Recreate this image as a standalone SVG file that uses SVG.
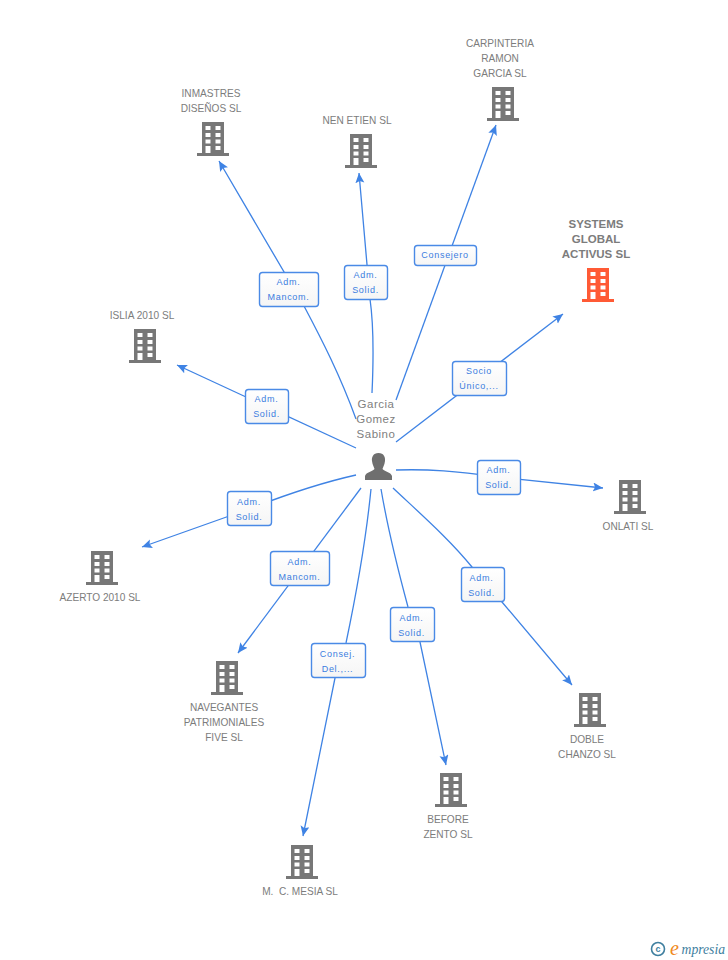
<svg xmlns="http://www.w3.org/2000/svg" xmlns:xlink="http://www.w3.org/1999/xlink" width="728" height="960" viewBox="0 0 728 960">
<style>
text{font-family:"Liberation Sans",Arial,sans-serif}
.n{font-size:10.100px;fill:#7c7c7c;text-anchor:middle;white-space:pre}
.h{font-size:11.500px;font-weight:bold;fill:#7c7c7c;text-anchor:middle}
.p{font-size:11.500px;fill:#808080;text-anchor:middle;letter-spacing:.5px}
.b{font-size:9px;fill:#3b7de0;text-anchor:middle;letter-spacing:.7px}
.c{fill:none;stroke:#3f83e4;stroke-width:1.300;marker-end:url(#a)}
.r{fill:url(#g);stroke:#4a8ae6;stroke-width:1.400}
</style>
<defs>
<linearGradient id="g" x1="0" y1="0" x2="0" y2="1"><stop offset="0" stop-color="#fff"/><stop offset="1" stop-color="#f5f5f5"/></linearGradient>
<marker id="a" markerUnits="userSpaceOnUse" markerWidth="12" markerHeight="10" refX="10" refY="4.500" orient="auto"><path d="M0,0L10,4.500L0,9L2,4.500Z" fill="#3f83e4"/></marker>
<path id="i" fill-rule="evenodd" d="M5,0H27V31H32V34H0V31H5ZM8.500,4V8H13.500V4ZM18.500,4V8H23.500V4ZM8.500,11V15H13.500V11ZM18.500,11V15H23.500V11ZM8.500,17.500V21.500H13.500V17.500ZM18.500,17.500V21.500H23.500V17.500ZM8.500,24V31H13.500V24ZM18.500,24V28H23.500V24Z"/>
</defs>
<g id="connectors">
<path class="c" d="M356,419C340,375 322,340 304,306L219,161"/>
<path class="c" d="M372,393C374,350 373,320 370,299L359,173"/>
<path class="c" d="M396,400L496,125"/>
<path class="c" d="M396,442L563,314"/>
<path class="c" d="M356,448L177,365"/>
<path class="c" d="M396,470C430,469 455,471 498,477L603,488"/>
<path class="c" d="M356,475C320,483 285,495 249,509L142,547"/>
<path class="c" d="M361,488L238,653"/>
<path class="c" d="M371,489C365,550 355,600 346,643L335,678L303,836"/>
<path class="c" d="M381,489C388,530 398,570 408,607L420,642L446,765"/>
<path class="c" d="M393,488C425,518 450,540 472,567L502,602L572,685"/>
</g>
<g id="edge-labels">
<g><rect class="r" x="259.500" y="272.500" width="59" height="34" rx="3"/><text class="b" x="288.500" y="285">Adm.</text><text class="b" x="288.500" y="300">Mancom.</text></g>
<g><rect class="r" x="344.500" y="265.500" width="43" height="34" rx="3"/><text class="b" x="365.500" y="278">Adm.</text><text class="b" x="365.500" y="293">Solid.</text></g>
<g><rect class="r" x="414.500" y="245.500" width="62" height="20" rx="3"/><text class="b" x="445" y="258">Consejero</text></g>
<g><rect class="r" x="452.500" y="361.500" width="54" height="34" rx="3"/><text class="b" x="479" y="374">Socio</text><text class="b" x="479" y="389">Único,...</text></g>
<g><rect class="r" x="245.500" y="389.500" width="43" height="34" rx="3"/><text class="b" x="266.500" y="402">Adm.</text><text class="b" x="266.500" y="417">Solid.</text></g>
<g><rect class="r" x="477.500" y="460.500" width="43" height="34" rx="3"/><text class="b" x="498.500" y="473">Adm.</text><text class="b" x="498.500" y="488">Solid.</text></g>
<g><rect class="r" x="227.500" y="491.500" width="44" height="34" rx="3"/><text class="b" x="249" y="505">Adm.</text><text class="b" x="249" y="520">Solid.</text></g>
<g><rect class="r" x="270.500" y="551.500" width="59" height="34" rx="3"/><text class="b" x="299.500" y="565">Adm.</text><text class="b" x="299.500" y="580">Mancom.</text></g>
<g><rect class="r" x="461.500" y="567.500" width="43" height="34" rx="3"/><text class="b" x="481.500" y="581">Adm.</text><text class="b" x="481.500" y="596">Solid.</text></g>
<g><rect class="r" x="390.500" y="607.500" width="44" height="34" rx="3"/><text class="b" x="411.500" y="621">Adm.</text><text class="b" x="411.500" y="636">Solid.</text></g>
<g><rect class="r" x="311.500" y="643.500" width="54" height="34" rx="3"/><text class="b" x="337.500" y="657">Consej.</text><text class="b" x="337.500" y="672">Del.,...</text></g>
</g>
<g id="person"><text class="p" x="376" y="408">Garcia</text><text class="p" x="376" y="423">Gomez</text><text class="p" x="376" y="438">Sabino</text>
<path fill="#6f6f6f" d="M378.500,453C373,453 371.500,457.500 372,461C372.500,465 374,467 374.500,469C373,471.500 366,472 365,476V480H392V476C391,472 384,471.500 382.500,469C383,467 384.500,465 385,461C385.500,457.500 384,453 378.500,453Z"/></g>
<g id="systems"><text class="h" x="596" y="228">SYSTEMS</text><text class="h" x="596" y="243">GLOBAL</text><text class="h" x="596" y="258">ACTIVUS SL</text><use xlink:href="#i" href="#i" x="582" y="268" fill="#ff5a35"/></g>
<g id="carpinteria" fill="#777"><text class="n" x="500" y="47">CARPINTERIA</text><text class="n" x="500" y="62">RAMON</text><text class="n" x="500" y="77">GARCIA SL</text><use href="#i" x="487" y="87"/></g>
<g id="inmastres" fill="#777"><text class="n" x="211" y="97">INMASTRES</text><text class="n" x="211" y="112">DISEÑOS SL</text><use href="#i" x="197" y="122"/></g>
<g id="nen-etien" fill="#777"><text class="n" x="357" y="124">NEN ETIEN SL</text><use href="#i" x="345" y="134"/></g>
<g id="islia" fill="#777"><text class="n" x="142" y="319">ISLIA 2010 SL</text><use href="#i" x="129" y="329"/></g>
<g id="onlati" fill="#777"><use href="#i" x="614" y="480"/><text class="n" x="628" y="530">ONLATI SL</text></g>
<g id="azerto" fill="#777"><use href="#i" x="86" y="551"/><text class="n" x="100" y="601">AZERTO 2010 SL</text></g>
<g id="navegantes" fill="#777"><use href="#i" x="211" y="661"/><text class="n" x="224" y="711">NAVEGANTES</text><text class="n" x="224" y="726">PATRIMONIALES</text><text class="n" x="224" y="741">FIVE SL</text></g>
<g id="doble" fill="#777"><use href="#i" x="574" y="693"/><text class="n" x="587" y="743">DOBLE</text><text class="n" x="587" y="758">CHANZO SL</text></g>
<g id="before" fill="#777"><use href="#i" x="435" y="773"/><text class="n" x="448" y="823">BEFORE</text><text class="n" x="448" y="838">ZENTO SL</text></g>
<g id="mesia" fill="#777"><use href="#i" x="286" y="845"/><text class="n" x="300" y="895">M.  C. MESIA SL</text></g>
<g id="logo"><circle cx="658" cy="949" r="6.500" fill="none" stroke="#3f7f9f" stroke-width="1.600"/><text x="658" y="952" font-size="9" fill="#3f7f9f" text-anchor="middle" font-weight="bold">c</text><text x="670" y="955" font-size="20" font-style="italic" fill="#f08a1d" style="font-family:'Liberation Serif',serif">e</text><text x="681.500" y="954" font-size="13.700" font-style="italic" fill="#3f7f9f" style="font-family:'Liberation Serif',serif">mpresia</text></g>
</svg>
